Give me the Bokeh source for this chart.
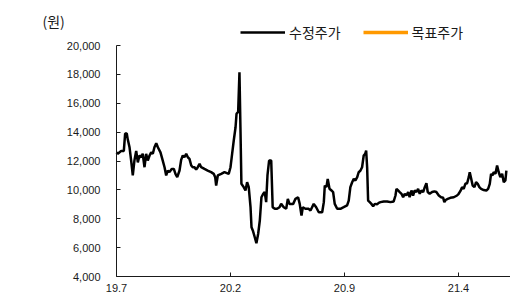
from bokeh.plotting import figure
from bokeh.models import FixedTicker, Legend, LegendItem, Label, Range1d, ColumnDataSource
from bokeh.embed import file_html
from bokeh.resources import INLINE

# months elapsed since 2019-07 (x) and adjusted share price in KRW (y)
months = [0.0, 0.08, 0.29, 0.45, 0.53, 0.63, 0.69, 0.80, 0.90, 1.00, 1.10, 1.21, 1.31, 1.41, 1.52,
          1.61, 1.72, 1.82, 1.92, 2.03, 2.13, 2.23, 2.33, 2.44, 2.54, 2.70, 2.84, 2.95, 3.05, 3.15,
          3.25, 3.39, 3.52, 3.62, 3.73, 3.87, 3.97, 4.07, 4.17, 4.28, 4.38, 4.48, 4.59, 4.68, 4.79,
          4.89, 4.99, 5.10, 5.20, 5.40, 5.60, 5.81, 5.97, 6.06, 6.12, 6.22, 6.43, 6.63, 6.89, 7.00,
          7.10, 7.20, 7.31, 7.37, 7.47, 7.55, 7.61, 7.67, 7.81, 7.92, 8.02, 8.12, 8.23, 8.29, 8.37,
          8.49, 8.59, 8.70, 8.80, 8.90, 9.01, 9.10, 9.19, 9.27, 9.37, 9.50, 9.59, 9.72, 9.86, 10.01,
          10.11, 10.27, 10.42, 10.52, 10.62, 10.74, 10.85, 10.99, 11.15, 11.25, 11.36, 11.44, 11.60,
          11.80, 11.91, 12.01, 12.11, 12.26, 12.42, 12.63, 12.73, 12.79, 12.89, 12.97, 13.08, 13.20,
          13.30, 13.40, 13.55, 13.75, 13.95, 14.16, 14.26, 14.36, 14.47, 14.57, 14.67, 14.78, 14.87,
          14.98, 15.08, 15.18, 15.27, 15.33, 15.39, 15.45, 15.55, 15.65, 15.76, 15.86, 16.00, 16.10,
          16.21, 16.41, 16.62, 16.82, 17.02, 17.13, 17.19, 17.29, 17.39, 17.50, 17.60, 17.70, 17.80,
          17.91, 18.00, 18.11, 18.21, 18.31, 18.42, 18.52, 18.62, 18.72, 18.83, 18.93, 19.03, 19.11,
          19.23, 19.38, 19.52, 19.64, 19.79, 19.93, 20.06, 20.13, 20.21, 20.34, 20.50, 20.71, 20.91,
          21.01, 21.12, 21.22, 21.32, 21.42, 21.53, 21.63, 21.69, 21.77, 21.87, 21.98, 22.08, 22.18,
          22.28, 22.39, 22.55, 22.71, 22.82, 22.92, 23.00, 23.08, 23.16, 23.27, 23.37, 23.47, 23.57,
          23.68, 23.78, 23.88, 23.94]

adj_price = [12600, 12500, 12700, 12700, 13900, 13900, 13500, 12950, 12030, 11000, 12030, 12700, 11900,
             12380, 12260, 12500, 11570, 12500, 12030, 12380, 12600, 12500, 12950, 13230, 12950, 12600,
             12030, 11570, 11000, 11340, 11230, 11450, 11450, 11110, 10880, 11340, 12080, 12380, 12260,
             12500, 12260, 12150, 11690, 11570, 11570, 11400, 11570, 11800, 11570, 11450, 11340, 11230,
             11110, 10880, 10300, 11000, 11110, 11230, 11110, 11570, 12500, 13420, 14340, 15270, 15400,
             18150, 14340, 10420, 10190, 9960, 10530, 10190, 8800, 7410, 7190, 6720, 6310, 6960, 7880,
             9490, 9730, 9850, 9150, 11000, 12030, 12030, 8800, 8690, 8690, 8800, 9030, 8800, 8690,
             9380, 9030, 9030, 9030, 9380, 9490, 9030, 8220, 8800, 8690, 8690, 8570, 8800, 9030, 8800,
             8450, 8450, 9150, 10300, 10190, 10760, 10080, 9960, 9850, 9030, 8690, 8690, 8800, 8920,
             9260, 10190, 10530, 10760, 10650, 10880, 11220, 11340, 11570, 12380, 12500, 12720, 11570,
             9260, 9150, 9030, 8870, 9030, 9000, 9100, 9150, 9200, 9200, 9150, 9200, 9610, 10070, 9960,
             9850, 9730, 9490, 9730, 9610, 9850, 9490, 9960, 9610, 9960, 9850, 10070, 9730, 9960, 9850,
             10190, 10460, 9850, 9730, 9850, 9900, 9850, 9610, 9490, 9450, 9150, 9300, 9380, 9450, 9490,
             9610, 9730, 9930, 10190, 10070, 10420, 10460, 10880, 11220, 10820, 10300, 10190, 10530,
             10420, 10190, 10070, 9990, 9960, 10070, 10420, 11110, 11000, 11220, 11110, 11690, 11220,
             10880, 11110, 10530, 10650, 11340]

# target price series: no value is visible in the chart (only its legend entry)
NAN = float("nan")
target_months = [0.0, 23.94]
target_price = [NAN, NAN]

tick_months = [0, 7, 14, 21]
tick_labels = ["19.7", "20.2", "20.9", "21.4"]
y_ticks = [4000, 6000, 8000, 10000, 12000, 14000, 16000, 18000, 20000]

# frame covers the whole canvas; axes are pinned inside it
X_START, X_END = -7.123, 24.193
Y_START, Y_END = 2130, 23117

p = figure(width=510, height=303, output_backend="svg", toolbar_location=None,
           x_range=Range1d(X_START, X_END), y_range=Range1d(Y_START, Y_END),
           min_border_left=0, min_border_right=0, min_border_top=0, min_border_bottom=0)
p.title.visible = False
p.outline_line_color = None
p.xgrid.visible = False
p.ygrid.visible = False
p.background_fill_color = "white"
p.border_fill_color = "white"

src = ColumnDataSource(dict(x=months, y=adj_price))
r1 = p.line("x", "y", source=src, line_color="black", line_width=2.5)
r2 = p.line(target_months, target_price, line_color="#ff9900", line_width=3.5)

FONT = "Liberation Sans"
KFONT = "Noto Sans CJK KR"
TXT = "#1a1a1a"

xa = p.xaxis[0]
xa.fixed_location = y_ticks[0]
xa.bounds = (0, X_END)
xa.ticker = FixedTicker(ticks=tick_months)
xa.major_label_overrides = {t: l for t, l in zip(tick_months, tick_labels)}
xa.minor_tick_line_color = None
xa.major_tick_in = 4
xa.major_tick_out = 0
xa.major_label_standoff = 7
xa.major_label_text_font = FONT
xa.major_label_text_font_size = "11px"
xa.major_label_text_color = TXT
xa.axis_line_color = TXT
xa.major_tick_line_color = TXT

ya = p.yaxis[0]
ya.fixed_location = tick_months[0]
ya.bounds = (y_ticks[0], y_ticks[-1])
ya.ticker = FixedTicker(ticks=y_ticks)
ya.major_label_overrides = {v: f"{v:,}" for v in y_ticks}
ya.minor_tick_line_color = None
ya.major_tick_in = 4
ya.major_tick_out = 0
ya.major_label_standoff = 16
ya.major_label_text_font = FONT
ya.major_label_text_font_size = "11px"
ya.major_label_text_color = TXT
ya.axis_line_color = TXT
ya.major_tick_line_color = TXT

legend = Legend(items=[LegendItem(label="수정주가", renderers=[r1]),
                       LegendItem(label="목표주가", renderers=[r2])],
                location=(240, 261), orientation="horizontal",
                padding=0, margin=0, spacing=22, label_standoff=4,
                glyph_width=45, glyph_height=14, label_height=14,
                label_text_font=KFONT, label_text_font_size="14px",
                label_text_color=TXT,
                border_line_color=None, background_fill_alpha=0)
p.add_layout(legend, "center")

unit = Label(x=42, y=283, x_units="screen", y_units="screen", text="(원)",
             text_font=KFONT, text_font_size="14px", text_color=TXT,
             text_baseline="middle", text_align="left")
p.add_layout(unit)

open("out.html", "w").write(file_html(p, INLINE))
